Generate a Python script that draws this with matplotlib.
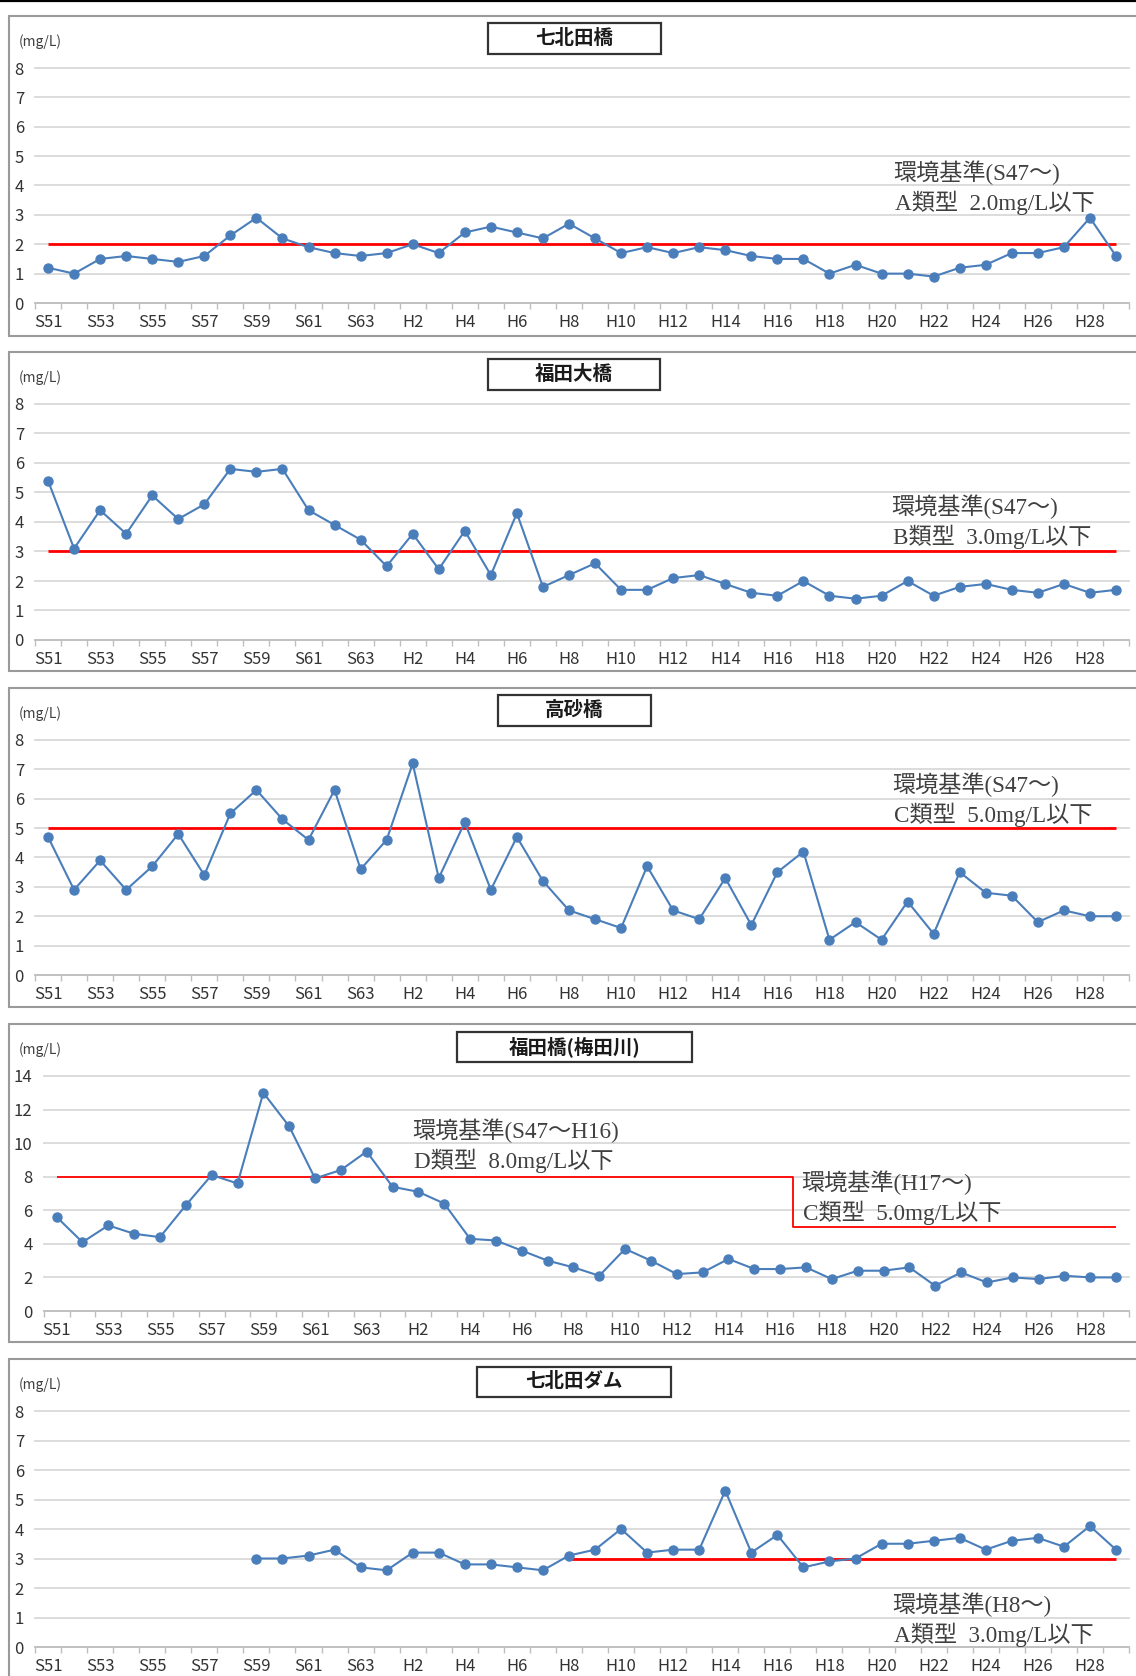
import numpy as np
import matplotlib
matplotlib.use("Agg")
import matplotlib.pyplot as plt
from matplotlib.patches import Rectangle
from matplotlib.lines import Line2D

plt.rcParams['font.family'] = ['Noto Sans CJK JP', 'DejaVu Sans']

# ---------------- data ----------------
years = ["S51", "S52", "S53", "S54", "S55", "S56", "S57", "S58", "S59", "S60",
         "S61", "S62", "S63", "H1", "H2", "H3", "H4", "H5", "H6", "H7", "H8",
         "H9", "H10", "H11", "H12", "H13", "H14", "H15", "H16", "H17", "H18",
         "H19", "H20", "H21", "H22", "H23", "H24", "H25", "H26", "H27", "H28", "H29"]
tick_labels = years[::2]

nan = np.nan
nanakita_bashi = [1.2, 1.0, 1.5, 1.6, 1.5, 1.4, 1.6, 2.3, 2.9, 2.2, 1.9, 1.7, 1.6,
                  1.7, 2.0, 1.7, 2.4, 2.6, 2.4, 2.2, 2.7, 2.2, 1.7, 1.9, 1.7, 1.9,
                  1.8, 1.6, 1.5, 1.5, 1.0, 1.3, 1.0, 1.0, 0.9, 1.2, 1.3, 1.7, 1.7,
                  1.9, 2.9, 1.6]
fukuda_ohashi = [5.4, 3.1, 4.4, 3.6, 4.9, 4.1, 4.6, 5.8, 5.7, 5.8, 4.4, 3.9, 3.4,
                 2.5, 3.6, 2.4, 3.7, 2.2, 4.3, 1.8, 2.2, 2.6, 1.7, 1.7, 2.1, 2.2,
                 1.9, 1.6, 1.5, 2.0, 1.5, 1.4, 1.5, 2.0, 1.5, 1.8, 1.9, 1.7, 1.6,
                 1.9, 1.6, 1.7]
takasago = [4.7, 2.9, 3.9, 2.9, 3.7, 4.8, 3.4, 5.5, 6.3, 5.3, 4.6, 6.3, 3.6,
            4.6, 7.2, 3.3, 5.2, 2.9, 4.7, 3.2, 2.2, 1.9, 1.6, 3.7, 2.2, 1.9,
            3.3, 1.7, 3.5, 4.2, 1.2, 1.8, 1.2, 2.5, 1.4, 3.5, 2.8, 2.7, 1.8,
            2.2, 2.0, 2.0]
fukuda_bashi = [5.6, 4.1, 5.1, 4.6, 4.4, 6.3, 8.1, 7.6, 13.0, 11.0, 7.9, 8.4, 9.5,
                7.4, 7.1, 6.4, 4.3, 4.2, 3.6, 3.0, 2.6, 2.1, 3.7, 3.0, 2.2, 2.3,
                3.1, 2.5, 2.5, 2.6, 1.9, 2.4, 2.4, 2.6, 1.5, 2.3, 1.7, 2.0, 1.9,
                2.1, 2.0, 2.0]
nanakita_dam = [nan, nan, nan, nan, nan, nan, nan, nan, 3.0, 3.0, 3.1, 3.3, 2.7,
                2.6, 3.2, 3.2, 2.8, 2.8, 2.7, 2.6, 3.1, 3.3, 4.0, 3.2, 3.3, 3.3,
                5.3, 3.2, 3.8, 2.7, 2.9, 3.0, 3.5, 3.5, 3.6, 3.7, 3.3, 3.6, 3.7,
                3.4, 4.1, 3.3]

titles = ["七北田橋", "福田大橋", "高砂橋", "福田橋(梅田川)", "七北田ダム"]
series = [nanakita_bashi, fukuda_ohashi, takasago, fukuda_bashi, nanakita_dam]
y_max = [8, 8, 8, 14, 8]
y_step = [1, 1, 1, 2, 1]

# environmental standards: (value, from, to)
standards = [
    [(2.0, "S51", "H29")],
    [(3.0, "S51", "H29")],
    [(5.0, "S51", "H29")],
    [(8.0, "S51", "H16"), (5.0, "H17", "H29")],
    [(3.0, "H8", "H29")],
]
std_texts = [
    [("環境基準(S47～)", "A類型  2.0mg/L以下")],
    [("環境基準(S47～)", "B類型  3.0mg/L以下")],
    [("環境基準(S47～)", "C類型  5.0mg/L以下")],
    [("環境基準(S47～H16)", "D類型  8.0mg/L以下"), ("環境基準(H17～)", "C類型  5.0mg/L以下")],
    [("環境基準(H8～)", "A類型  3.0mg/L以下")],
]

# ---------------- layout (pixels) ----------------
W, H = 1136, 1676
frame_top = [16, 352, 688, 1024, 1359]
frame_bot = [336, 671, 1007, 1342, 1700]
plot_left = [35, 35, 35, 43.7, 35]
plot_right = 1129
plot_top = [68, 404, 740, 1076, 1411]
plot_bot = [303, 640, 975, 1311, 1647]
title_box_x = [(488, 661), (488, 660), (498, 651), (457, 692), (477, 671)]
text_pos = [
    [(893, 173)],
    [(891, 507)],
    [(892, 785)],
    [(412, 1131), (801, 1183)],
    [(892, 1605)],
]

BLUE = "#4a7ebb"
RED = "#ff0000"
TXT = "#404040"
GRID = "#d9d9d9"
TICKFONT = ['Liberation Sans Narrow', 'Noto Sans CJK JP', 'DejaVu Sans']
NOTEFONT = ['Liberation Serif', 'Noto Sans CJK JP', 'DejaVu Sans']

fig = plt.figure(figsize=(W / 100, H / 100), dpi=100)
fig.patch.set_facecolor("white")


def fx(x):
    return x / W


def fy(y):
    return 1 - y / H


# top black rule
fig.add_artist(Line2D([0, 1], [fy(0.8), fy(0.8)], color="black", lw=1.6,
                      transform=fig.transFigure))

x = np.arange(len(years))

for i in range(5):
    # panel frame
    fig.add_artist(Rectangle((fx(8.5), fy(frame_bot[i])), fx(W + 20 - 8.5),
                             (frame_bot[i] - frame_top[i]) / H,
                             transform=fig.transFigure, facecolor="white",
                             edgecolor="#9a9a9a", lw=1.5, zorder=0))

    ax = fig.add_axes([fx(plot_left[i]), fy(plot_bot[i]),
                       fx(plot_right - plot_left[i]),
                       (plot_bot[i] - plot_top[i]) / H])
    ax.set_facecolor("none")
    ax.set_xlim(-0.5, len(years) - 0.5)
    ax.set_ylim(0, y_max[i])
    ax.set_yticks(np.arange(0, y_max[i] + 1, y_step[i]))
    ax.yaxis.grid(True, color=GRID, lw=1.3)
    for gl in ax.get_ygridlines():
        gl.set_clip_on(False)
    ax.set_axisbelow(True)
    for s in ("top", "right", "left"):
        ax.spines[s].set_visible(False)
    ax.spines["bottom"].set_color("#bfbfbf")
    ax.spines["bottom"].set_linewidth(1.3)

    ax.set_xticks(x[::2])
    ax.set_xticklabels(tick_labels)
    ax.set_xticks(np.arange(-0.5, len(years), 1), minor=True)
    ax.tick_params(axis="x", which="major", length=0, pad=8, labelsize=12,
                   labelcolor="#333333")
    ax.tick_params(axis="x", which="minor", length=4, width=1, color="#bfbfbf")
    ax.tick_params(axis="y", length=0, pad=8, labelsize=12, labelcolor="#333333")
    for lbl in ax.get_xticklabels() + ax.get_yticklabels():
        lbl.set_fontfamily(TICKFONT)

    # standards line
    segs = standards[i]
    xs, ys = [], []
    for k, (val, a, b) in enumerate(segs):
        xa = years.index(a) - (0.5 if k > 0 else 0.0)
        xb = years.index(b) + (0.5 if k < len(segs) - 1 else 0.0)
        xs += [xa, xb]
        ys += [val, val]
    lw_red = 1.3 if len(segs) > 1 else 2.0
    ax.plot(xs, ys, color=RED, lw=lw_red, zorder=2.5, solid_capstyle="butt")

    # data
    ax.plot(x, np.array(series[i], dtype=float), color=BLUE, lw=1.5,
            marker="o", ms=6.5, zorder=3)

    # unit label
    fig.text(fx(18.5), fy(frame_top[i] + 26), "(mg/L)", fontsize=10,
             color=TXT, ha="left", va="center")

    # title box
    bx0, bx1 = title_box_x[i]
    by0, by1 = frame_top[i] + 7.5, frame_top[i] + 38
    fig.add_artist(Rectangle((fx(bx0), fy(by1)), fx(bx1 - bx0), (by1 - by0) / H,
                             transform=fig.transFigure, facecolor="white",
                             edgecolor="#333333", lw=1.6, zorder=5))
    fig.text(fx((bx0 + bx1) / 2), fy((by0 + by1) / 2), titles[i], fontsize=14,
             fontweight="bold", color="#1a1a1a", ha="center", va="center",
             zorder=6)

    # standard annotations
    for (l1, l2), (tx, ty) in zip(std_texts[i], text_pos[i]):
        fig.text(fx(tx), fy(ty), l1, fontsize=16.7, color=TXT, ha="left",
                 va="center", zorder=6, family=NOTEFONT)
        fig.text(fx(tx + 2), fy(ty + 30), l2, fontsize=16.7, color=TXT,
                 ha="left", va="center", zorder=6, family=NOTEFONT)

fig.savefig("out.png", dpi=100, facecolor="white")
